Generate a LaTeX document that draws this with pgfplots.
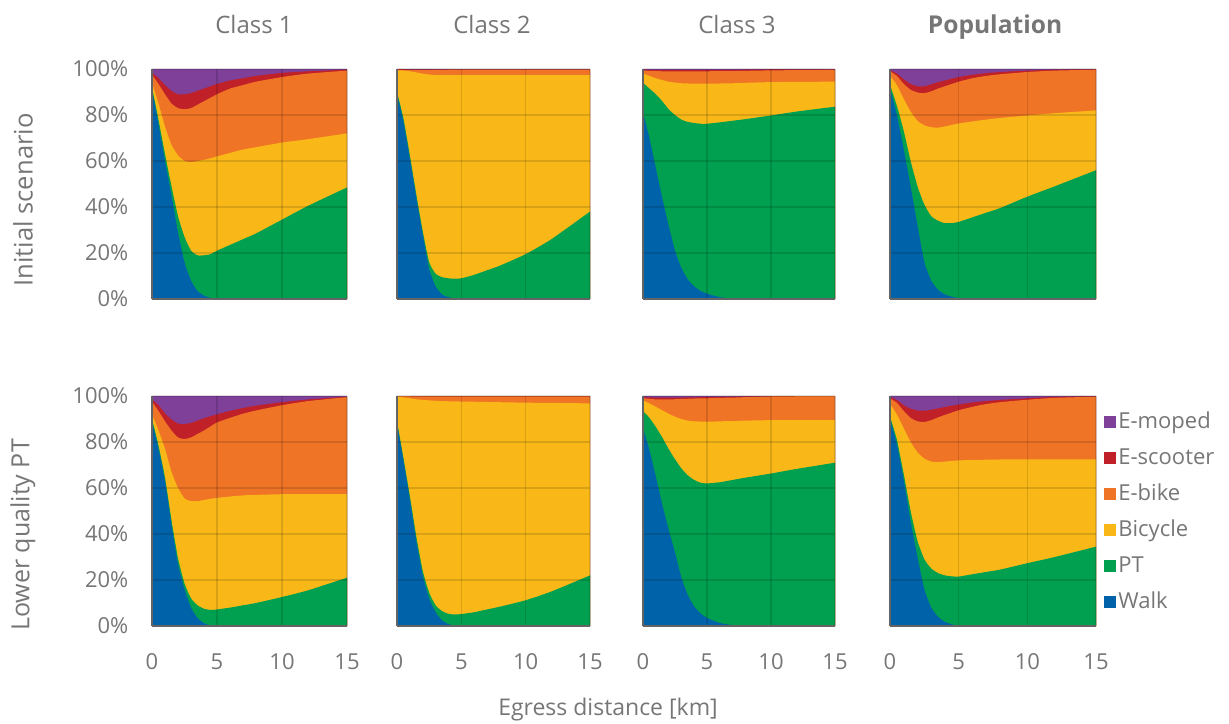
\documentclass[border=0pt]{standalone}
\usepackage{fontspec}
\setmainfont{Open Sans}
\usepackage{pgfplots}
\usepackage{pgfplotstable}
\pgfplotsset{compat=1.18}
\definecolor{cMoped}{RGB}{127,64,154}
\definecolor{cScoot}{RGB}{192,32,40}
\definecolor{cEbike}{RGB}{240,116,38}
\definecolor{cBike}{RGB}{249,184,24}
\definecolor{cPT}{RGB}{0,160,80}
\definecolor{cWalk}{RGB}{0,98,168}
\definecolor{txt}{RGB}{118,118,118}
\definecolor{axln}{RGB}{100,100,100}

% cumulative tops of each mode (stack order: Walk, PT, Bicycle, E-bike, E-scooter, E-moped = 100)
\pgfplotstableread{
x esc ebike bike pt walk
0 98.5 97.5 94 92 91
0.5 96 93.5 85 78 76
1 93 89 75 63 60
1.5 90.5 85 67 49 45
2 89 83 62.5 36 29
2.5 89 82.5 60 27 16
3 89.5 83 59.5 21 8
3.5 90.5 84.5 60 19 3.5
4 91.5 86 60.5 19 1.5
4.5 92.5 87.5 61.2 19.5 0.5
5 93.5 89 62 21 0
6 95 91.5 63.5 23.5 0
7 96 93 65 26 0
8 97 94.5 66 28.5 0
10 98.3 96.5 68 34.5 0
12 99 98 69.5 40.5 0
15 99.7 99.3 72 48.5 0
}\tabA
\pgfplotstableread{
x esc ebike bike pt walk
0 99.9 99.7 99.5 90 89
0.5 99.9 99.6 99.3 78.5 77
1 99.8 99.5 99 62.5 61
1.5 99.8 99.5 98.5 45.5 44
2 99.8 99.5 98 29.5 28
2.5 99.8 99.5 97.6 16 13
3 99.8 99.6 97.4 11 5.5
3.5 99.8 99.6 97.3 9.5 2
4 99.8 99.7 97.3 9 0.8
4.5 99.8 99.7 97.3 8.8 0.3
5 99.8 99.7 97.3 9 0
6 99.8 99.7 97.3 10.5 0
7 99.8 99.7 97.3 12.5 0
8 99.8 99.7 97.3 14.5 0
10 99.8 99.7 97.3 19.5 0
12 99.8 99.7 97.3 26 0
15 99.8 99.7 97.3 38 0
}\tabB
\pgfplotstableread{
x esc ebike bike pt walk
0 99.6 99.3 98 94 81
0.5 99.6 99.2 97 91.5 70
1 99.5 99.1 96 89 57
1.5 99.5 99 95.2 86 44
2 99.5 99 94.5 82.5 32
2.5 99.5 99 94.1 80 21
3 99.5 99 93.8 78 13.5
3.5 99.5 99 93.7 77 8.5
4 99.5 99 93.6 76.5 5.5
4.5 99.5 99 93.6 76.2 3.5
5 99.5 99 93.6 76.2 2.3
6 99.6 99.1 93.7 76.8 0.8
7 99.6 99.1 93.8 77.5 0.2
8 99.7 99.2 94 78.2 0
10 99.8 99.4 94.3 79.8 0
12 99.8 99.5 94.4 81.5 0
15 99.8 99.6 94.5 83.6 0
}\tabC
\pgfplotstableread{
x esc ebike bike pt walk
0 99.5 99 97 93 91.5
0.5 98 97 93 84 80
1 95.5 93.5 87 73 65
1.5 93.5 91 81.5 60 49
2 92.5 89.8 77.5 49 32
2.5 92.5 89.5 75.5 41 16
3 93.3 90.3 74.7 36 8
3.5 94.3 91.5 74.5 34 4
4 95 92.5 75 33 2
4.5 95.8 93.5 75.7 33 1
5 96.5 94.5 76.3 33.5 0.4
6 97.5 96 77.2 35.5 0
7 98.2 97 78 37.5 0
8 98.7 97.7 78.7 39.5 0
10 99.3 98.7 79.8 44.5 0
12 99.7 99.3 80.8 49 0
15 99.9 99.7 82 56 0
}\tabD
\pgfplotstableread{
x esc ebike bike pt walk
0 98.5 97.5 92 90 89
0.5 96 93.5 85 78.5 77
1 92.5 89 77 64.5 63
1.5 89.8 85 67 46 44
2 88 82 60 29.5 27
2.5 87.8 81.3 55.5 18.5 16
3 88.3 82 54.3 12 8
3.5 89.3 83.5 54.3 9 3.5
4 90.3 85 54.8 7.5 1.2
4.5 91.2 86.8 55.3 7 0.3
5 92 88.5 55.7 7.2 0
6 93.5 90.5 56.3 8 0
7 94.8 92.3 56.8 9 0
8 95.8 93.7 57 10 0
10 97.3 96 57.3 12.6 0
12 98.5 97.8 57.3 15.5 0
15 99.7 99.5 57.3 21 0
}\tabE
\pgfplotstableread{
x esc ebike bike pt walk
0 99.9 99.9 99.7 89 88
0.5 99.9 99.9 99.4 73 72
1 99.9 99.9 99 56.5 55
1.5 99.9 99.8 98.6 39 37
2 99.9 99.8 98.3 24 22
2.5 99.9 99.8 98.1 14.5 12
3 99.9 99.8 97.9 9 6
3.5 99.9 99.8 97.8 6.5 2.5
4 99.9 99.8 97.7 5.3 0.8
4.5 99.9 99.8 97.65 5 0.2
5 99.9 99.8 97.6 5.2 0
6 99.9 99.8 97.5 6 0
7 99.9 99.8 97.4 7.2 0
8 99.9 99.8 97.3 8.4 0
10 99.9 99.8 97.1 11.2 0
12 99.9 99.8 97 15 0
15 99.9 99.8 96.8 22 0
}\tabF
\pgfplotstableread{
x esc ebike bike pt walk
0 99.5 99 98 93.5 86
0.5 99.4 98.8 96.8 90.5 76.5
1 99.3 98.5 95.3 86.5 65
1.5 99.3 98.5 93.8 82 53
2 99.3 98.5 92.3 77 42
2.5 99.3 98.6 91 72.5 32
3 99.3 98.7 90 68.5 21
3.5 99.4 98.8 89.3 65.5 13.5
4 99.4 98.9 89 63.5 8.5
4.5 99.5 99 88.9 62.3 5.5
5 99.5 99 88.8 62 3.5
6 99.6 99.2 89 62.5 1.3
7 99.7 99.3 89.1 63.5 0.4
8 99.8 99.5 89.3 64.5 0
10 99.9 99.8 89.5 66.3 0
12 99.9 99.9 89.5 68.3 0
15 99.9 99.9 89.5 71 0
}\tabG
\pgfplotstableread{
x esc ebike bike pt walk
0 99.5 99 96.5 91 90
0.5 98.3 97 92 81 79
1 96 93.5 86 66 63.5
1.5 94.5 90.5 80 50 45.5
2 93.7 89 75.5 37 30
2.5 93.6 88.7 72.8 29 16
3 94 89.5 71.5 25 8
3.5 94.6 90.7 71.3 23 4
4 95.2 91.8 71.5 22 1.8
4.5 95.8 92.8 71.8 21.6 0.7
5 96.3 93.8 72 21.5 0.2
6 97.2 95.3 72.2 22.5 0
7 97.8 96.5 72.3 23.5 0
8 98.3 97.3 72.4 24.5 0
10 99 98.4 72.5 27.3 0
12 99.6 99.2 72.5 30 0
15 99.9 99.7 72.5 34.5 0
}\tabH

\pgfplotsset{
  panel/.style={
    scale only axis, height=115pt, anchor=north west,
    xmin=0, xmax=15, ymin=0, ymax=100,
    axis on top,
    axis x line=bottom, axis y line=left,
    axis line style={-, draw=axln, line width=0.6pt},
    xtick={0,5,10,15}, ytick={0,20,40,60,80,100},
    major tick length=0pt,
    grid=major, grid style={black, opacity=0.13, line width=0.7pt},
    tick label style={font=\fontsize{11}{13}\selectfont, text=txt},
    /pgf/number format/assume math mode=true,
    xticklabel style={yshift=-10.3pt},
    yticklabel style={xshift=-8.3pt},
    yticklabels={}, xticklabels={},
  },
  leftcol/.style={yticklabel={\pgfmathprintnumber{\tick}\%}},
  bottomrow/.style={xticklabel={\pgfmathprintnumber{\tick}}},
  lay/.style={fill=#1, draw=none, smooth, tension=0.35},
}
\newcommand{\layers}[1]{%
  \addplot[fill=cMoped, draw=none] coordinates {(0,100) (15,100)} \closedcycle;
  \addplot[lay=cScoot] table[x=x,y=esc]{#1} \closedcycle;
  \addplot[lay=cEbike] table[x=x,y=ebike]{#1} \closedcycle;
  \addplot[lay=cBike] table[x=x,y=bike]{#1} \closedcycle;
  \addplot[lay=cPT] table[x=x,y=pt]{#1} \closedcycle;
  \addplot[lay=cWalk] table[x=x,y=walk]{#1} \closedcycle;
}

\begin{document}
\begin{tikzpicture}
\useasboundingbox (0pt,0pt) rectangle (614.5pt,-361.5pt);

\begin{axis}[panel, leftcol, at={(76pt,-34.5pt)}, width=97.5pt]
\layers{\tabA}
\end{axis}
\begin{axis}[panel, at={(198.5pt,-34.5pt)}, width=96.5pt]
\layers{\tabB}
\end{axis}
\begin{axis}[panel, at={(321.5pt,-34.5pt)}, width=96pt]
\layers{\tabC}
\end{axis}
\begin{axis}[panel, at={(445pt,-34.5pt)}, width=103pt]
\layers{\tabD}
\end{axis}

\begin{axis}[panel, leftcol, bottomrow, at={(76pt,-198pt)}, width=97.5pt]
\layers{\tabE}
\end{axis}
\begin{axis}[panel, bottomrow, at={(198.5pt,-198pt)}, width=96.5pt]
\layers{\tabF}
\end{axis}
\begin{axis}[panel, bottomrow, at={(321.5pt,-198pt)}, width=96pt]
\layers{\tabG}
\end{axis}
\begin{axis}[panel, bottomrow, at={(445pt,-198pt)}, width=103pt,
  legend entries={E-moped,E-scooter,E-bike,Bicycle,PT,Walk},
  legend image code/.code={\fill[#1] (0pt,-3pt) rectangle (6pt,3pt);},
  legend style={at={(axis description cs:1,1)}, anchor=north west,
    xshift=4pt, yshift=-7pt, draw=none, fill=none, inner sep=0pt,
    font=\fontsize{11}{13}\selectfont, text=txt, row sep=6pt,
    nodes={inner sep=1pt, text height=8pt, text depth=2pt},
    cells={anchor=west}},
]
\layers{\tabH}
\end{axis}

\node[anchor=base, font=\fontsize{12}{14}\selectfont, text=txt] at (127pt,-16.5pt) {Class 1};
\node[anchor=base, font=\fontsize{12}{14}\selectfont, text=txt] at (246pt,-16.5pt) {Class 2};
\node[anchor=base, font=\fontsize{12}{14}\selectfont, text=txt] at (368.5pt,-16.5pt) {Class 3};
\node[anchor=base, font=\fontsize{12.3}{14}\selectfont\bfseries, text=txt] at (497.5pt,-16.5pt) {Population};

\node[rotate=90, font=\fontsize{12.8}{15}\selectfont, text=txt] at (11.5pt,-100pt) {Initial scenario};
\node[rotate=90, font=\fontsize{12.5}{15}\selectfont, text=txt] at (11.5pt,-267.5pt) {Lower quality PT};
\node[anchor=base, font=\fontsize{11.5}{14}\selectfont, text=txt] at (304pt,-357.5pt) {Egress distance [km]};
\end{tikzpicture}
\end{document}
